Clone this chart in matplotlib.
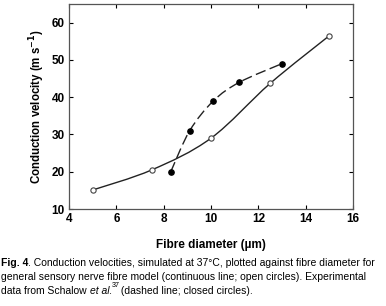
import matplotlib
matplotlib.use("Agg")
import matplotlib.pyplot as plt
from matplotlib.path import Path
from matplotlib.patches import PathPatch
import numpy as np

model_x = [5, 7.5, 10, 12.5, 15]
model_y = [15.1, 20.5, 29.0, 43.7, 56.5]
exp_x = [8.3, 9.1, 10.1, 11.2, 13.0]
exp_y = [20.0, 31.0, 39.0, 44.0, 49.0]
xticks = [4, 6, 8, 10, 12, 14, 16]
yticks = [10, 20, 30, 40, 50, 60]

plt.rcParams['font.family'] = ['Liberation Sans', 'DejaVu Sans']
fig = plt.figure(figsize=(3.86, 3.06), dpi=100)
ax = fig.add_axes([69/386, 1 - 209/306, (353-69)/386, (209-4)/306])
ax.set_xlim(4, 16)
ax.set_ylim(10, 65)


def smooth_path(xs, ys):
    # Catmull-Rom style Bezier through the given points (drawing only)
    p = np.column_stack([xs, ys]).astype(float)
    n = len(p)
    verts = [p[0]]
    codes = [Path.MOVETO]
    k = 1 / 6.0
    for i in range(n - 1):
        p0 = p[i - 1] if i > 0 else p[i]
        p1 = p[i]
        p2 = p[i + 1]
        p3 = p[i + 2] if i + 2 < n else p[i + 1]
        c1 = p1 + (p2 - p0) * k
        c2 = p2 - (p3 - p1) * k
        verts += [c1, c2, p2]
        codes += [Path.CURVE4] * 3
    return Path(verts, codes)


ax.add_patch(PathPatch(smooth_path(model_x, model_y), fill=False, ec='#222222', lw=1.0))
ax.add_patch(PathPatch(smooth_path(exp_x, exp_y), fill=False, ec='#222222', lw=1.0,
                       linestyle=(0, (7.5, 3.2))))
ax.plot(model_x, model_y, 'o', ms=3.8, mfc='white', mec='#444444', mew=0.8, zorder=3)
ax.plot(exp_x, exp_y, 'o', ms=3.8, mfc='black', mec='black', zorder=3)

ax.set_xticks(xticks)
ax.set_yticks(yticks)
ax.tick_params(direction='in', top=True, right=True, length=3, width=0.8,
               labelsize=8.5, pad=3)
for lab in ax.get_xticklabels() + ax.get_yticklabels():
    lab.set_fontweight('bold')
for s in ax.spines.values():
    s.set_linewidth(0.9)
    s.set_color('#555555')

ax.set_ylabel('Conduction velocity (m s$^{\\mathbf{-1}}$)', fontsize=8.3, fontweight='bold',
              labelpad=3)
fig.text(0.5 * (69 + 353) / 386, 1 - 245/306, 'Fibre diameter (\u00b5m)', fontsize=8.5,
         fontweight='bold', ha='center', va='center')

fs = 7.5
y1 = 1 - 263/306
dy = 14/306
t = fig.text(1/386, y1, 'Fig. 4', fontsize=fs, fontweight='bold', va='center')
fig.canvas.draw()
r = fig.canvas.get_renderer()
bb = t.get_window_extent(r)
fig.text(bb.x1 / 386, y1, '. Conduction velocities, simulated at 37\u00b0C, plotted against fibre diameter for',
         fontsize=fs, va='center')
fig.text(1/386, y1 - dy, 'general sensory nerve fibre model (continuous line; open circles). Experimental',
         fontsize=fs, va='center')
t2 = fig.text(1/386, y1 - 2*dy, 'data from Schalow ', fontsize=fs, va='center')
bb2 = t2.get_window_extent(r)
t3 = fig.text(bb2.x1 / 386, y1 - 2*dy, 'et al.', fontsize=fs, va='center', style='italic')
bb3 = t3.get_window_extent(r)
t4 = fig.text(bb3.x1 / 386, y1 - 2*dy + 0.018, '37', fontsize=5.2, va='center')
bb4 = t4.get_window_extent(r)
fig.text(bb4.x1 / 386 - 0.004, y1 - 2*dy, ' (dashed line; closed circles).', fontsize=fs, va='center')

fig.savefig('out.png', dpi=100)
